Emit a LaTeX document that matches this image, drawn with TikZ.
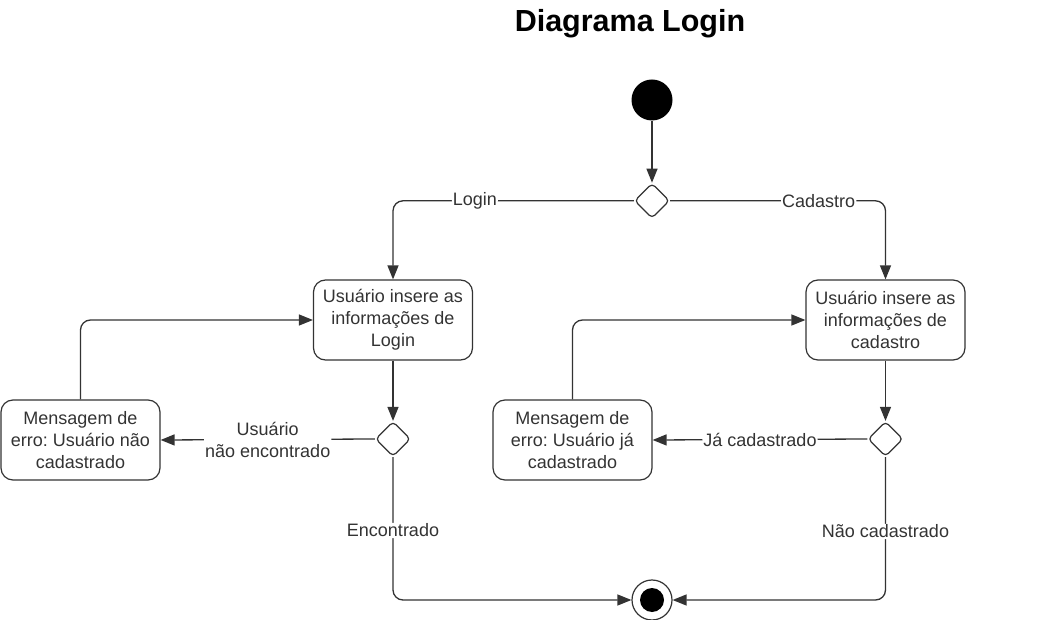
\documentclass[tikz,border=0pt]{standalone}
\usepackage{fontspec}
\setmainfont{Liberation Sans}
\usetikzlibrary{arrows.meta, shapes.geometric, positioning}

\tikzset{
    activity/.style={draw, rounded corners=12pt, line width=1.2pt, minimum width=159pt, minimum height=80pt, align=center, inner sep=0pt},
    decision/.style={diamond, draw, rounded corners=4pt, minimum width=35pt, minimum height=35pt, inner sep=0pt, line width=1.2pt},
    flow/.style={->, line width=1.3pt, rounded corners=10pt},
    guard/.style={fill=white, inner sep=1pt, align=center}
}

\begin{document}
\frenchspacing
\begin{tikzpicture}[x=1pt, y=-1pt, >={Triangle[length=14pt,width=11pt]}, color=black!80,
    every node/.style={font=\fontsize{18}{22}\selectfont}]
\useasboundingbox (0,0) rectangle (1053,620);
\node[text=black, font=\bfseries\fontsize{30.5}{36}\selectfont] (title) at (630,24) {Diagrama Login};
\draw
    node [circle, fill=black, minimum size=41pt, inner sep=0pt] (start) at (652,100) {}
    node [decision, below=62pt of start] (choice) {}
    node [activity] (login) at (393,320) {Usuário insere as\\informações de\\Login}
    node [activity] (cadastro) at (885.5,320) {Usuário insere as\\informações de\\cadastro}
    node [decision] (checklogin) at (393,439) {}
    node [decision] (checkcad) at (885.5,439) {}
    node [activity] (errologin) at (80.5,440) {Mensagem de\\erro: Usuário não\\cadastrado}
    node [activity] (errocad) at (572.5,440) {Mensagem de\\erro: Usuário já\\cadastrado}
    node [circle, draw, line width=1.2pt, minimum size=40pt, inner sep=0pt] (final) at (652,600) {}
    node [circle, fill=black, minimum size=24pt, inner sep=0pt] (finaldot) at (652,600) {}
;
\draw[flow] (start.south) -- (choice.north);
\draw[flow] (choice.west) -| node[guard, pos=0.33] {Login} (login.north);
\draw[flow] (choice.east) -| node[guard, pos=0.345] {Cadastro} (cadastro.north);
\draw[flow] (login.south) -- (checklogin.north);
\draw[flow] (cadastro.south) -- (checkcad.north);
\draw[flow] (checklogin.west) -- node[guard] {Usuário\\não encontrado} (errologin.east);
\draw[flow] (checkcad.west) -- node[guard] {Já cadastrado} (errocad.east);
\draw[flow] (errologin.north) |- (login.west);
\draw[flow] (errocad.north) |- (cadastro.west);
\draw[flow] (checklogin.south) |- node[guard, pos=0.257] {Encontrado} (final.west);
\draw[flow] (checkcad.south) |- node[guard, pos=0.26] {Não cadastrado} (final.east);
\end{tikzpicture}
\end{document}
